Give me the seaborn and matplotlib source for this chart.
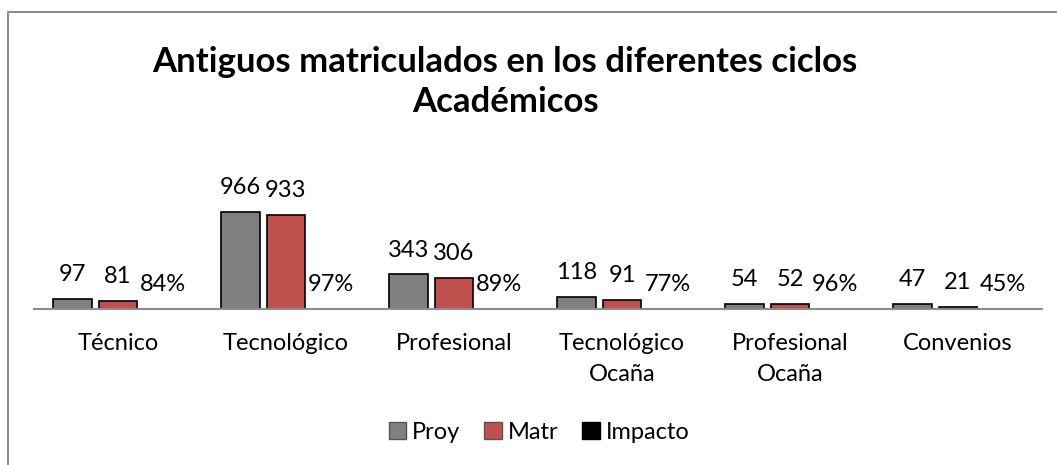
import matplotlib
matplotlib.use("Agg")
import matplotlib.pyplot as plt
import seaborn as sns
import pandas as pd
from matplotlib.patches import Rectangle, Patch

categories = ["Técnico", "Tecnológico", "Profesional", "Tecnológico\nOcaña", "Profesional\nOcaña", "Convenios"]
series = ["Proy", "Matr", "Impacto"]
proy = [97, 966, 343, 118, 54, 47]
matr = [81, 933, 306, 91, 52, 21]
impacto = [0.84, 0.97, 0.89, 0.77, 0.96, 0.45]
colors = ["#808080", "#C0504D", "#000000"]
title = "Antiguos matriculados en los diferentes ciclos\nAcadémicos"

sns.set_theme(style="white")
plt.rcParams["font.family"] = ["Lato", "DejaVu Sans"]
plt.rcParams["text.color"] = "black"
plt.rcParams["xtick.color"] = "black"

rows = []
for name, vals in zip(series, [proy, matr, impacto]):
    for c, v in zip(categories, vals):
        rows.append({"cat": c, "serie": name, "valor": v})
df = pd.DataFrame(rows)

fig = plt.figure(figsize=(10.57, 4.65), dpi=100)
ax = fig.add_axes([34 / 1057, 1 - 309 / 465, 1008 / 1057, 159 / 465])
sns.barplot(data=df, x="cat", y="valor", hue="serie", palette=colors,
            width=0.81, gap=0.15, edgecolor="black", linewidth=1.2,
            ax=ax, legend=False, saturation=1)

ax.set_xlim(-0.5, 5.5)
ax.set_ylim(0, 1580)
ax.set_xlabel("")
ax.set_ylabel("")
ax.set_yticks([])
for s in ["top", "right", "left"]:
    ax.spines[s].set_visible(False)
ax.spines["bottom"].set_color("#8c8c8c")
ax.spines["bottom"].set_linewidth(1.5)
ax.tick_params(axis="x", length=0, pad=17, labelsize=17, labelcolor="black")
for lbl in ax.get_xticklabels():
    lbl.set_verticalalignment("top")
    lbl.set_linespacing(1.6)

fmt = [lambda v: f"{v:.0f}", lambda v: f"{v:.0f}", lambda v: f"{v*100:.0f}%"]
for cont, f in zip(ax.containers, fmt):
    ax.bar_label(cont, labels=[f(b.get_height()) for b in cont], padding=10, fontsize=17, color="black")

fig.text(0.478, 1 - 82 / 465, title, ha="center", va="center", fontsize=25,
         fontweight="bold", linespacing=1.3, color="black")

handles = [Patch(facecolor=c, edgecolor="#555555" if i < 2 else "black", linewidth=1) for i, c in enumerate(colors)]
fig.legend(handles, series, loc="center", bbox_to_anchor=(0.51, 1 - 432 / 465), ncol=3,
           frameon=False, fontsize=17, handlelength=0.75, handleheight=0.75,
           handletextpad=0.25, columnspacing=1.0, labelcolor="black")

fig.patches.append(Rectangle((8 / 1057, -0.1), 1.2, 1.1 - 12 / 465, transform=fig.transFigure,
                             fill=False, edgecolor="#8c8c8c", linewidth=1.5))

fig.savefig("out.png", dpi=100)
